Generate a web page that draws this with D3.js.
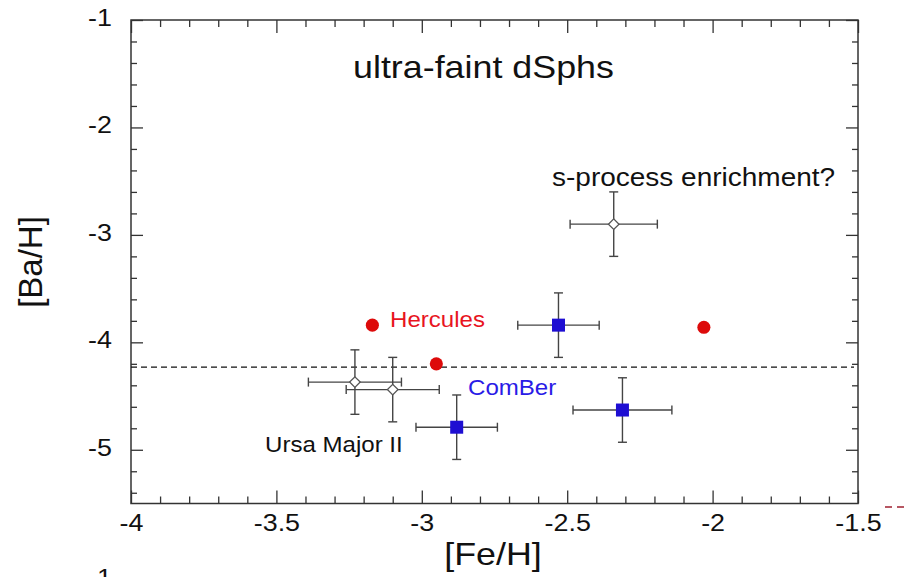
<!DOCTYPE html>
<meta charset="utf-8">
<style>
body{
    margin: 0;
    background: #fff;
    overflow: hidden;
}
text{
    font-family: "Liberation Sans", Arial, sans-serif;
}
.frame{
    fill: none;
    stroke: #333;
    stroke-width: 1.5;
}
.axis path{
    display: none;
}
.axis line{
    stroke: #333;
    stroke-width: 1.3;
}
.errbar{
    stroke: #444;
    stroke-width: 1.4;
    fill: none;
}
.cut-line{
    stroke: #111;
    stroke-width: 1.3;
    stroke-dasharray: 6,4;
}
</style>
<svg width="911" height="577"></svg>
<script src="https://d3js.org/d3.v7.min.js"></script>
<script>

// open diamonds (Ursa Major II + s-process star)
var diamondFe    = [-2.34, -3.23, -3.10];
var diamondBa    = [-2.90, -4.37, -4.44];
var diamondFeErr = [0.15, 0.16, 0.16];
var diamondBaErr = [0.30, 0.30, 0.30];

// blue squares (ComBer)
var squareFe    = [-2.53, -2.31, -2.88];
var squareBa    = [-3.84, -4.63, -4.79];
var squareFeErr = [0.14, 0.17, 0.14];
var squareBaErr = [0.30, 0.30, 0.30];

// red circles (Hercules)
var circleFe = [-3.17, -2.95, -2.03];
var circleBa = [-3.84, -4.20, -3.86];

var cutLevel = -4.23;

var xMajor = [-4, -3.5, -3, -2.5, -2, -1.5];
var yMajor = [-5, -4, -3, -2, -1];

var stretch = 1.12;
var svg = d3.select('svg');

var x = d3.scaleLinear().domain([-4, -1.5]).range([131, 858]);
var y = d3.scaleLinear().domain([-5.5, -1]).range([503.5, 20]);

function minorTicks(lo, hi, step){
    var out = [];
    for(var i = 0; lo + i*step <= hi + 1e-9; i++){
        var v = +(lo + i*step).toFixed(2);
        out.push(v);
    }
    return out;
}

var xMinor = minorTicks(-4, -1.5, 0.1).filter(function(v){
    return xMajor.indexOf(v) < 0;
});
var yMinor = minorTicks(-5.4, -1, 0.2).filter(function(v){
    return yMajor.indexOf(v) < 0;
});

var fmt = function(d){ return String(d); };

// minor ticks, all four sides
svg.append('g').attr('class','axis')
    .attr('transform','translate(0,' + y.range()[0] + ')')
    .call(d3.axisBottom(x).tickValues(xMinor).tickSize(-7).tickFormat(''));
svg.append('g').attr('class','axis')
    .attr('transform','translate(0,' + y.range()[1] + ')')
    .call(d3.axisTop(x).tickValues(xMinor).tickSize(-7).tickFormat(''));
svg.append('g').attr('class','axis')
    .attr('transform','translate(' + x.range()[0] + ',0)')
    .call(d3.axisLeft(y).tickValues(yMinor).tickSize(-6).tickFormat(''));
svg.append('g').attr('class','axis')
    .attr('transform','translate(' + x.range()[1] + ',0)')
    .call(d3.axisRight(y).tickValues(yMinor).tickSize(-6).tickFormat(''));

// major ticks
var xAxis = svg.append('g').attr('class','axis')
    .attr('transform','translate(0,' + y.range()[0] + ')')
    .call(d3.axisBottom(x).tickValues(xMajor).tickSize(-13).tickPadding(10).tickFormat(fmt));
svg.append('g').attr('class','axis')
    .attr('transform','translate(0,' + y.range()[1] + ')')
    .call(d3.axisTop(x).tickValues(xMajor).tickSize(-13).tickFormat(''));
var yAxis = svg.append('g').attr('class','axis')
    .attr('transform','translate(' + x.range()[0] + ',0)')
    .call(d3.axisLeft(y).tickValues(yMajor).tickSize(-12).tickFormat(fmt));
svg.append('g').attr('class','axis')
    .attr('transform','translate(' + x.range()[1] + ',0)')
    .call(d3.axisRight(y).tickValues(yMajor).tickSize(-12).tickFormat(''));

xAxis.selectAll('text')
    .attr('font-size', 24)
    .attr('fill', '#111')
    .attr('transform', 'scale(' + stretch + ',1)');
yAxis.selectAll('text')
    .attr('font-size', 24)
    .attr('fill', '#111')
    .attr('x', -17)
    .attr('dy', '0.22em')
    .attr('transform', 'scale(' + stretch + ',1)');

svg.append('rect')
    .attr('class','frame')
    .attr('x', x.range()[0])
    .attr('y', y.range()[1])
    .attr('width', x.range()[1] - x.range()[0])
    .attr('height', y.range()[0] - y.range()[1]);

// dashed reference level
svg.append('line')
    .attr('class','cut-line')
    .attr('x1', x(-4)).attr('x2', x(-1.5) - 4)
    .attr('y1', y(cutLevel)).attr('y2', y(cutLevel));

function zipPoints(fe, ba, feErr, baErr){
    return fe.map(function(d, i){
        return {fe: d, ba: ba[i], ex: feErr ? feErr[i] : 0, ey: baErr ? baErr[i] : 0};
    });
}

var diamonds = zipPoints(diamondFe, diamondBa, diamondFeErr, diamondBaErr);
var squares  = zipPoints(squareFe, squareBa, squareFeErr, squareBaErr);
var circles  = zipPoints(circleFe, circleBa);

function drawErrors(parent, data){
    var cap = 4.5;
    var g = parent.append('g').selectAll('g')
        .data(data).enter().append('g').attr('class','errbar');
    g.append('line')
        .attr('x1', function(d){ return x(d.fe - d.ex); })
        .attr('x2', function(d){ return x(d.fe + d.ex); })
        .attr('y1', function(d){ return y(d.ba); })
        .attr('y2', function(d){ return y(d.ba); });
    g.append('line')
        .attr('x1', function(d){ return x(d.fe); })
        .attr('x2', function(d){ return x(d.fe); })
        .attr('y1', function(d){ return y(d.ba - d.ey); })
        .attr('y2', function(d){ return y(d.ba + d.ey); });
    [-1, 1].forEach(function(s){
        g.append('line')
            .attr('x1', function(d){ return x(d.fe + s*d.ex); })
            .attr('x2', function(d){ return x(d.fe + s*d.ex); })
            .attr('y1', function(d){ return y(d.ba) - cap; })
            .attr('y2', function(d){ return y(d.ba) + cap; });
        g.append('line')
            .attr('x1', function(d){ return x(d.fe) - cap; })
            .attr('x2', function(d){ return x(d.fe) + cap; })
            .attr('y1', function(d){ return y(d.ba + s*d.ey); })
            .attr('y2', function(d){ return y(d.ba + s*d.ey); });
    });
}

var marks = svg.append('g');
drawErrors(marks, diamonds);
drawErrors(marks, squares);

marks.append('g').selectAll('path')
    .data(diamonds).enter().append('path')
    .attr('d', d3.symbol().type(d3.symbolSquare).size(56))
    .attr('transform', function(d){ return 'translate(' + x(d.fe) + ',' + y(d.ba) + ') rotate(45)'; })
    .attr('fill', '#fff')
    .attr('stroke', '#555')
    .attr('stroke-width', 1.3);

marks.append('g').selectAll('path')
    .data(squares).enter().append('path')
    .attr('d', d3.symbol().type(d3.symbolSquare).size(169))
    .attr('transform', function(d){ return 'translate(' + x(d.fe) + ',' + y(d.ba) + ')'; })
    .attr('fill', '#1e0ed2');

marks.append('g').selectAll('path')
    .data(circles).enter().append('path')
    .attr('d', d3.symbol().type(d3.symbolCircle).size(135))
    .attr('transform', function(d){ return 'translate(' + x(d.fe) + ',' + y(d.ba) + ')'; })
    .attr('fill', '#dd0a0a');

function label(px, py, txt, size, colour, anchor){
    return svg.append('text')
        .attr('transform', 'translate(' + px + ',' + py + ') scale(' + stretch + ',1)')
        .attr('font-size', size)
        .attr('fill', colour)
        .attr('text-anchor', anchor || 'start')
        .text(txt);
}

label(353, 78, 'ultra-faint dSphs', 32, '#111');
label(552, 186, 's-process enrichment?', 25, '#111');
label(390, 327, 'Hercules', 21.5, '#e8141e');
label(468, 395, 'ComBer', 21.5, '#2a1be6');
label(265, 452, 'Ursa Major II', 21.5, '#111');

// axis titles
label(493, 565, '[Fe/H]', 32, '#111', 'middle');
svg.append('text')
    .attr('transform', 'translate(42,262) rotate(-90)')
    .attr('font-size', 33)
    .attr('fill', '#111')
    .attr('text-anchor', 'middle')
    .text('[Ba/H]');

// bits of the neighbouring panel visible at the edges
svg.append('line')
    .attr('x1', 885).attr('x2', 908)
    .attr('y1', 507).attr('y2', 507)
    .attr('stroke', '#a02030')
    .attr('stroke-width', 1.5)
    .attr('stroke-dasharray', '7,5');
label(112, 586, '-1', 24, '#111', 'end');

</script>
